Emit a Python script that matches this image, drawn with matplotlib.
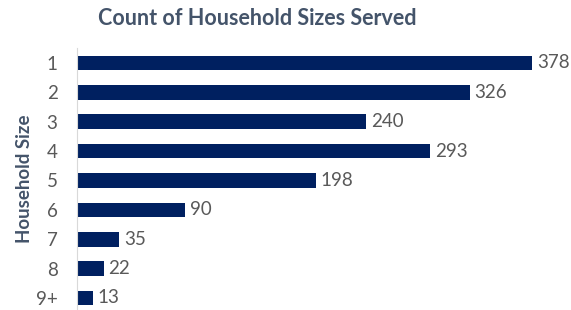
import numpy as np
import matplotlib.pyplot as plt

sizes = ['1', '2', '3', '4', '5', '6', '7', '8', '9+']
counts = [378, 326, 240, 293, 198, 90, 35, 22, 13]

plt.rcParams['font.family'] = ['Lato', 'DejaVu Sans']

fig = plt.figure(figsize=(5.71, 3.10), dpi=100)
ax = fig.add_axes([77 / 571, 0.0, 482 / 571, (310 - 48.3) / 310])

y = np.arange(len(sizes))
bars = ax.barh(y, counts, height=0.5, color='#002060')
ax.set_ylim(8.41, -0.5)
ax.set_xlim(0, 400)

for b, v in zip(bars, counts):
    ax.text(b.get_width() + 4, b.get_y() + b.get_height() / 2, str(v),
            va='center', ha='left', fontsize=13.5, color='#595959')

ax.set_yticks(y)
ax.set_yticklabels(sizes, fontsize=13.5, color='#595959')
ax.tick_params(axis='y', length=0, pad=14)
ax.set_xticks([])
for s in ['top', 'right', 'bottom']:
    ax.spines[s].set_visible(False)
ax.spines['left'].set_color('#d9d9d9')

ax.set_ylabel('Household Size', fontsize=13.5, fontweight='bold', color='#44546a', labelpad=2)
fig.text(0.45, 0.94, 'Count of Household Sizes Served', ha='center', va='center',
         fontsize=15.5, fontweight='bold', color='#44546a')

fig.savefig('out.png', dpi=100)
